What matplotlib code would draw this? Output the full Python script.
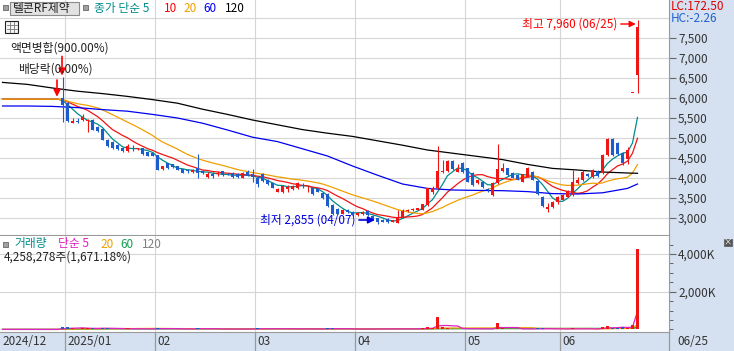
"""Telcon RF Pharm daily candles with SMA overlays and volume, Dec 2024 - Jun 2025."""
import numpy as np
import pandas as pd
import matplotlib
matplotlib.use("Agg")
import matplotlib.pyplot as plt
from matplotlib.patches import Rectangle
from matplotlib.ticker import FuncFormatter, MultipleLocator

plt.rcParams["font.family"] = ["Noto Sans CJK KR", "DejaVu Sans"]

W, H = 734, 351

# KRX closed days inside the range
HOLIDAYS = ["2024-12-25", "2024-12-31", "2025-01-01", "2025-01-27", "2025-01-28",
            "2025-01-29", "2025-01-30", "2025-03-03", "2025-05-01", "2025-05-05",
            "2025-05-06", "2025-06-03", "2025-06-06"]
dates = [d for d in pd.bdate_range("2024-12-11", "2025-06-25")
         if d.strftime("%Y-%m-%d") not in HOLIDAYS]

# halted days before the reverse split: flat close, no trades
halt_close = [5970, 5970, 5970, 5970, 5970, 5970, 5970, 5970, 5970, 5970, 5970, 5970]
halt_volume = [0, 0, 0, 0, 0, 0, 0, 0, 0, 0, 0, 0]

opens = [6000, 5870, 5380, 5420, 5450, 5420, 5450, 5280, 5230, 4950,
         4910, 4820, 4760, 4680, 4760, 4720, 4740, 4640, 4620, 4570,
         4220, 4370, 4350, 4300, 4220, 4180, 4160, 4240, 4170, 4020,
         4100, 4100, 4175, 4110, 4120, 4100, 4010, 4160, 4100, 4010,
         4090, 3950, 3865, 3660, 3650, 3725, 3720, 3740, 3825, 3740,
         3760, 3725, 3620, 3600, 3330, 3230, 3110, 3200, 3150, 3080,
         3100, 3180, 3060, 2990, 2950, 2970, 2900, 2870, 3020, 3180,
         3200, 3210, 3200, 3320, 3660, 3740, 4150, 4180, 4430, 4160,
         4370, 4240, 4120, 3880, 3910, 3720, 3575, 3870, 4180, 4240,
         4120, 4070, 3910, 4030, 4160, 3930, 3530, 3220, 3280, 3400,
         3450, 3530, 3575, 3870, 3950, 4100, 4030, 4180, 4120, 4570,
         4970, 4880, 4630, 4470, 6120, 6575]
highs = [6520, 5900, 5490, 5500, 5600, 5475, 5470, 5300, 5250, 4980,
         4930, 4840, 4780, 4850, 4820, 4760, 4760, 4660, 4640, 4580,
         4310, 4380, 4360, 4310, 4230, 4230, 4230, 4600, 4190, 4140,
         4160, 4170, 4185, 4130, 4160, 4130, 4140, 4200, 4225, 4060,
         4115, 3970, 3880, 3760, 3830, 3830, 3830, 3890, 3870, 3790,
         3780, 3740, 3640, 3620, 3360, 3250, 3220, 3220, 3170, 3140,
         3170, 3200, 3080, 3010, 2970, 2990, 2960, 3200, 3230, 3220,
         3240, 3260, 3350, 3760, 3790, 4800, 4450, 4450, 4440, 4350,
         4400, 4260, 4140, 3980, 3930, 3740, 3900, 4850, 4380, 4260,
         4150, 4090, 4110, 4280, 4180, 3950, 3550, 3370, 3420, 3550,
         3600, 3700, 4200, 4030, 4200, 4120, 4220, 4200, 4590, 5000,
         5000, 4900, 4660, 4780, 6120, 7960]
lows = [5400, 5400, 5370, 5370, 5430, 5160, 5200, 5150, 4940, 4780,
        4730, 4700, 4650, 4650, 4680, 4700, 4580, 4540, 4550, 4190,
        4200, 4230, 4250, 4190, 4120, 4120, 4120, 3990, 4110, 4000,
        4010, 4050, 4060, 4080, 4000, 4010, 4000, 4040, 3910, 3780,
        3900, 3820, 3740, 3640, 3620, 3660, 3700, 3720, 3740, 3640,
        3580, 3640, 3480, 3280, 3080, 3090, 3100, 3120, 3060, 3060,
        3080, 3060, 2960, 2855, 2890, 2880, 2890, 2870, 3010, 3150,
        3180, 3190, 3190, 3300, 3600, 3720, 4120, 4150, 4200, 4150,
        4120, 3890, 3800, 3860, 3750, 3660, 3560, 3850, 4150, 4060,
        3990, 3950, 3890, 4020, 3940, 3580, 3270, 3150, 3260, 3350,
        3440, 3520, 3560, 3850, 3930, 4020, 4010, 4020, 4100, 4550,
        4560, 4580, 4320, 4350, 6120, 6130]
closes = [5830, 5430, 5420, 5390, 5530, 5450, 5200, 5170, 4960, 4800,
          4750, 4720, 4670, 4800, 4740, 4740, 4600, 4560, 4560, 4200,
          4300, 4250, 4270, 4200, 4130, 4170, 4210, 4130, 4130, 4100,
          4040, 4130, 4075, 4090, 4020, 4030, 4130, 4060, 4030, 3840,
          3925, 3840, 3760, 3725, 3810, 3780, 3800, 3870, 3790, 3760,
          3590, 3660, 3500, 3300, 3100, 3110, 3200, 3140, 3080, 3120,
          3150, 3080, 2980, 2900, 2910, 2890, 2950, 3020, 3180, 3210,
          3220, 3240, 3340, 3750, 3750, 4180, 4180, 4430, 4220, 4220,
          4140, 3910, 3830, 3950, 3770, 3700, 3880, 4220, 4260, 4080,
          4000, 3970, 4100, 4240, 3950, 3600, 3290, 3280, 3400, 3530,
          3575, 3670, 3900, 3960, 4150, 4040, 4200, 4040, 4570, 4970,
          4580, 4600, 4370, 4710, 6120, 7780]
# thousands of shares
volumes = [150, 110, 50, 40, 60, 70, 60, 40, 80, 60,
           40, 30, 30, 50, 30, 20, 30, 30, 20, 90,
           40, 30, 20, 30, 30, 20, 20, 90, 20, 30,
           20, 20, 20, 10, 20, 20, 20, 20, 40, 50,
           30, 30, 30, 40, 40, 20, 20, 30, 20, 20,
           30, 20, 30, 60, 50, 30, 20, 20, 20, 20,
           20, 20, 30, 40, 20, 20, 20, 40, 40, 20,
           20, 20, 50, 130, 60, 650, 130, 60, 40, 30,
           30, 40, 40, 20, 20, 20, 40, 350, 60, 30,
           20, 20, 20, 40, 30, 50, 50, 30, 20, 20,
           20, 30, 60, 20, 30, 20, 30, 20, 140, 170,
           70, 60, 140, 80, 240.4, 4258.278]

# 60/120-day lines need history older than the window
ma_long_idx = [0, 5, 10, 15, 20, 25, 30, 35, 40, 45, 50, 55, 60, 65,
               70, 75, 80, 85, 90, 95, 100, 105, 110, 115, 120, 125, 127]
ma60_read = [5800, 5800, 5790, 5760, 5710, 5670, 5590, 5500, 5370, 5200, 5020, 4910, 4730, 4550,
             4300, 4070, 3850, 3740, 3700, 3690, 3683, 3660, 3610, 3600, 3630, 3740, 3850]
ma120_read = [6390, 6340, 6250, 6170, 6110, 6040, 5960, 5870, 5720, 5590, 5450, 5330, 5210, 5120,
              5040, 4930, 4820, 4700, 4620, 4540, 4460, 4340, 4240, 4200, 4150, 4125, 4117]

RED, BLUE = "#f01414", "#1c5ccc"
TEAL, ORANGE, MA60C = "#008c8c", "#f0a000", "#0000f0"
MAG, VGREEN, VGRAY = "#e020c0", "#10a050", "#808080"
GRID, STRIP, EDGE = "#d6d6d6", "#d5e1f0", "#9a9a9a"

n_halt = len(halt_close)
o = np.array([np.nan] * n_halt + opens)
h = np.array([np.nan] * n_halt + highs)
l = np.array([np.nan] * n_halt + lows)
c = np.array([np.nan] * n_halt + closes)
vol = np.array(halt_volume + volumes, dtype=float)
x = np.arange(len(dates))
traded = ~np.isnan(o)

close_all = pd.Series(halt_close + closes, dtype=float)
vol_s = pd.Series(vol)

month_starts = [i for i in range(1, len(dates)) if dates[i].month != dates[i - 1].month]
bounds = [i - 0.5 for i in month_starts]
XL = (-0.5, 133.3)

fig = plt.figure(figsize=(W / 100, H / 100), dpi=100, facecolor=STRIP)


def px_axes(x0, y0, x1, y1):
    return fig.add_axes([x0 / W, 1 - y1 / H, (x1 - x0) / W, (y1 - y0) / H])


ax_p = px_axes(0, 0, 669, 235)
ax_v = px_axes(0, 236, 669, 332)
ax_d = px_axes(0, 332, 669, 351)
ax_o = px_axes(0, 0, W, H)

# ── price panel ──────────────────────────────────────────────
ax_p.set_xlim(*XL)
ax_p.set_ylim(2575, 8450)
for p in range(3000, 8001, 500):
    ax_p.axhline(p, color=GRID, lw=0.8, zorder=0)
for b in bounds:
    ax_p.axvline(b, color=GRID, lw=0.8, zorder=0)

ax_p.plot(x, close_all.rolling(120 if False else 5, min_periods=1).mean(), color=TEAL, lw=0.9, zorder=2)
ax_p.plot(x, close_all.rolling(10, min_periods=1).mean(), color=RED, lw=0.9, zorder=2)
ax_p.plot(x, close_all.rolling(20, min_periods=1).mean(), color=ORANGE, lw=0.9, zorder=2)
ax_p.plot(ma_long_idx, ma60_read, color=MA60C, lw=0.9, zorder=2)
ax_p.plot(ma_long_idx, ma120_read, color="black", lw=0.9, zorder=2)

col = np.where(c >= o, RED, BLUE)
ax_p.vlines(x[traded], l[traded], h[traded], colors=col[traded], lw=0.8, zorder=3)
ax_p.bar(x[traded], np.maximum(np.abs(c - o), 20)[traded], bottom=np.minimum(o, c)[traded],
         width=0.62, color=col[traded], linewidth=0, zorder=4)

ax_p.yaxis.tick_right()
ax_p.set_yticks(range(3000, 7501, 500))
ax_p.yaxis.set_major_formatter(FuncFormatter(lambda v, _: f"{int(v):,}"))
ax_p.tick_params(axis="y", length=5, width=0.8, color="#666", labelsize=8.5,
                 labelcolor="#333", pad=1.5)
ax_p.set_xticks([])
for s in ("top", "left"):
    ax_p.spines[s].set_visible(False)
for s in ("bottom", "right"):
    ax_p.spines[s].set_color(EDGE)

# event markers on the reverse-split day
split_i = n_halt
ax_p.annotate("", xy=(split_i - 0.1, 6560), xytext=(split_i - 0.1, 7040),
              arrowprops=dict(arrowstyle="-|>", color="red", lw=1.2, mutation_scale=10,
                              shrinkA=0, shrinkB=0), zorder=6)
ax_p.annotate("", xy=(split_i - 1.1, 6030), xytext=(split_i - 1.1, 6450),
              arrowprops=dict(arrowstyle="-|>", color="red", lw=1.2, mutation_scale=10,
                              shrinkA=0, shrinkB=0), zorder=6)

# high / low callouts
hi_i = int(np.nanargmax(h))
lo_i = int(np.nanargmin(l))
hi_tip = (hi_i - 0.35, h[hi_i] - 110)
lo_tip = (lo_i - 0.5, l[lo_i] + 95)
ax_p.annotate("", xy=hi_tip, xytext=(-15, 0), textcoords="offset pixels",
              arrowprops=dict(arrowstyle="-|>", color="red", lw=1, mutation_scale=9,
                              shrinkA=0, shrinkB=0), zorder=6)
ax_p.annotate(f"최고 {int(h[hi_i]):,} ({dates[hi_i]:%m/%d})", xy=hi_tip, xytext=(-18, 0),
              textcoords="offset pixels", ha="right", va="center", color="red", fontsize=8.5)
ax_p.annotate("", xy=lo_tip, xytext=(-16, 0), textcoords="offset pixels",
              arrowprops=dict(arrowstyle="-|>", color="#0000e0", lw=1.2, mutation_scale=10,
                              shrinkA=0, shrinkB=0), zorder=6)
ax_p.annotate(f"최저 {int(l[lo_i]):,} ({dates[lo_i]:%m/%d})", xy=lo_tip, xytext=(-19, 0),
              textcoords="offset pixels", ha="right", va="center", color="#0000e0", fontsize=8.5)

# ── volume panel ─────────────────────────────────────────────
ax_v.set_xlim(*XL)
ax_v.set_ylim(-138, 4955)
for v in (2000, 4000):
    ax_v.axhline(v, color=GRID, lw=0.8, zorder=0)
for b in bounds:
    ax_v.axvline(b, color=GRID, lw=0.8, zorder=0)
ax_v.bar(x[traded], vol[traded], width=0.62, color=col[traded], linewidth=0, zorder=3)
ax_v.plot(x, vol_s.rolling(120, min_periods=1).mean(), color=VGRAY, lw=0.8, zorder=2)
ax_v.plot(x, vol_s.rolling(60, min_periods=1).mean(), color=VGREEN, lw=0.9, zorder=2)
ax_v.plot(x, vol_s.rolling(20, min_periods=1).mean(), color=ORANGE, lw=0.9, zorder=2)
ax_v.plot(x, vol_s.rolling(5, min_periods=1).mean(), color=MAG, lw=0.9, zorder=2)
ax_v.yaxis.tick_right()
ax_v.set_yticks([2000, 4000])
ax_v.yaxis.set_minor_locator(MultipleLocator(500))
ax_v.yaxis.set_major_formatter(FuncFormatter(lambda v, _: f"{int(v):,}K"))
ax_v.tick_params(axis="y", which="major", length=5, width=0.8, color="#666", labelsize=8.5,
                 labelcolor="#333", pad=1.5)
ax_v.tick_params(axis="y", which="minor", length=3, width=0.7, color="#666")
ax_v.set_xticks([])
for s in ("top", "left"):
    ax_v.spines[s].set_visible(False)
for s in ("bottom", "right"):
    ax_v.spines[s].set_color(EDGE)

# ── date strip ───────────────────────────────────────────────
ax_d.set_xlim(*XL)
ax_d.set_ylim(1, 0)
ax_d.axis("off")
ax_d.text(-0.1, 0.5, f"{dates[0]:%Y/%m}", ha="left", va="center", fontsize=8.5, color="#333")
for i, b in zip(month_starts, bounds):
    ax_d.axvline(b, color=EDGE, lw=0.9)
    lab = f"{dates[i]:%Y/%m}" if dates[i].month == 1 else f"{dates[i]:%m}"
    ax_d.text(b + 0.45, 0.5, lab, ha="left", va="center", fontsize=8.5, color="#333")

# ── header texts and widgets (pixel coordinates) ─────────────
ax_o.set_xlim(0, W)
ax_o.set_ylim(H, 0)
ax_o.axis("off")


def ptext(xp, yp, s, color="#222", size=8.5, **kw):
    ax_o.text(xp, yp, s, color=color, fontsize=size, va="center", **kw)


def square(xp, yp, w=4.5, hh=5):
    ax_o.add_patch(Rectangle((xp, yp), w, hh, facecolor="#a0a0a0", edgecolor="#666", lw=0.6))


square(3, 5)
ax_o.add_patch(Rectangle((10, 1.7), 69, 13.3, facecolor="#e2e2e2", edgecolor="#8a8a8a", lw=0.8))
ptext(13, 8.6, "텔콘RF제약", color="#222")
square(83, 5)
ptext(94, 8.6, "종가 단순 5", color=TEAL)
ptext(164, 8.6, "10", color="red")
ptext(183, 8.6, "20", color=ORANGE)
ptext(203, 8.6, "60", color=MA60C)
ptext(225, 8.6, "120", color="black")

# table icon
ax_o.add_patch(Rectangle((5, 20.5), 13, 12.5, facecolor="#f4f4f4", edgecolor="#222", lw=0.8))
for yy in (24.5, 28.5):
    ax_o.plot([6.5, 16.5], [yy, yy], color="#777", lw=0.6)
for xx in (9.5, 13.5):
    ax_o.plot([xx, xx], [22, 31.5], color="#777", lw=0.6)

ptext(10, 48, "액면병합(900.00%)", color="#222")
ptext(18, 69, "배당락(0.00%)", color="#222")

ptext(670.5, 6, "LC:172.50", color="#e00000")
ptext(670.5, 18.3, "HC:-2.26", color="#2060d0")

square(3, 241.5)
ptext(14, 244, "거래량", color=TEAL)
ptext(58, 244, "단순 5", color=MAG)
ptext(100, 244, "20", color=ORANGE)
ptext(120, 244, "60", color=VGREEN)
ptext(142, 244, "120", color=VGRAY)
ptext(4, 257, "4,258,278주(1,671.18%)", color="#222")

ax_o.add_patch(Rectangle((724, 238.5), 8, 7.5, facecolor="#555", edgecolor="#555", lw=0.5))
ptext(728, 242.3, "×", color="white", size=6, ha="center")

ax_o.plot([669, 669], [332, 351], color=EDGE, lw=0.9)
ptext(677, 341.5, f"{dates[-1]:%m/%d}", color="#333")

fig.savefig("out.png", dpi=100, facecolor=fig.get_facecolor())
